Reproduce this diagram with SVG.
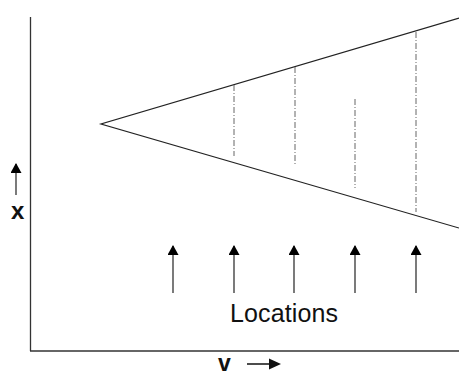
<svg xmlns="http://www.w3.org/2000/svg" width="459" height="376" viewBox="0 0 459 376">
<defs>
<marker id="ah" markerWidth="10" markerHeight="11" refX="9" refY="5.5" orient="auto" markerUnits="userSpaceOnUse" viewBox="0 0 10 11">
<path d="M0,0 L10,5.5 L0,11 Z" fill="#000"/>
</marker>
</defs>
<style>
.ax{stroke:#333;stroke-width:1.3;fill:none}
.ln{stroke:#222;stroke-width:1.2;fill:none}
.dash{stroke:#666;stroke-width:1;stroke-dasharray:6 2 1 2;fill:none}
.arr{stroke:#222;stroke-width:1.2;fill:none}
.t{font-family:"Liberation Sans",Arial,sans-serif;fill:#111}
</style>
<rect width="459" height="376" fill="#fff"/>
<g id="axes">
<line class="ax" x1="30.5" y1="17" x2="30.5" y2="351"/>
<line class="ax" x1="30" y1="351" x2="459" y2="351"/>
</g>
<g id="wedge">
<polyline class="ln" points="459,18 101,124 459,228"/>
</g>
<g id="connectors">
<line class="dash" x1="234" y1="85" x2="234" y2="156"/>
<line class="dash" x1="295" y1="67" x2="295" y2="164"/>
<line class="dash" x1="355" y1="99" x2="355" y2="188"/>
<line class="dash" x1="416" y1="32" x2="416" y2="212"/>
<path class="arr" d="M173,293 V246" marker-end="url(#ah)"/>
<path class="arr" d="M234,293 V246" marker-end="url(#ah)"/>
<path class="arr" d="M294,293 V246" marker-end="url(#ah)"/>
<path class="arr" d="M355,293 V246" marker-end="url(#ah)"/>
<path class="arr" d="M416,293 V246" marker-end="url(#ah)"/>
<path class="arr" d="M16,195 V164" marker-end="url(#ah)"/>
<path d="M247,364 H270" stroke="#111" stroke-width="1.5" fill="none"/>
<path d="M269,358.5 L281,364 L269,369.5 Z" fill="#111"/>
</g>
<g id="labels">
<text class="t" x="230" y="322" font-size="25" textLength="108">Locations</text>
<text class="t" x="11" y="219" font-size="24" font-weight="bold">x</text>
<text class="t" x="218" y="371" font-size="23" font-weight="bold">v</text>
</g>
</svg>
